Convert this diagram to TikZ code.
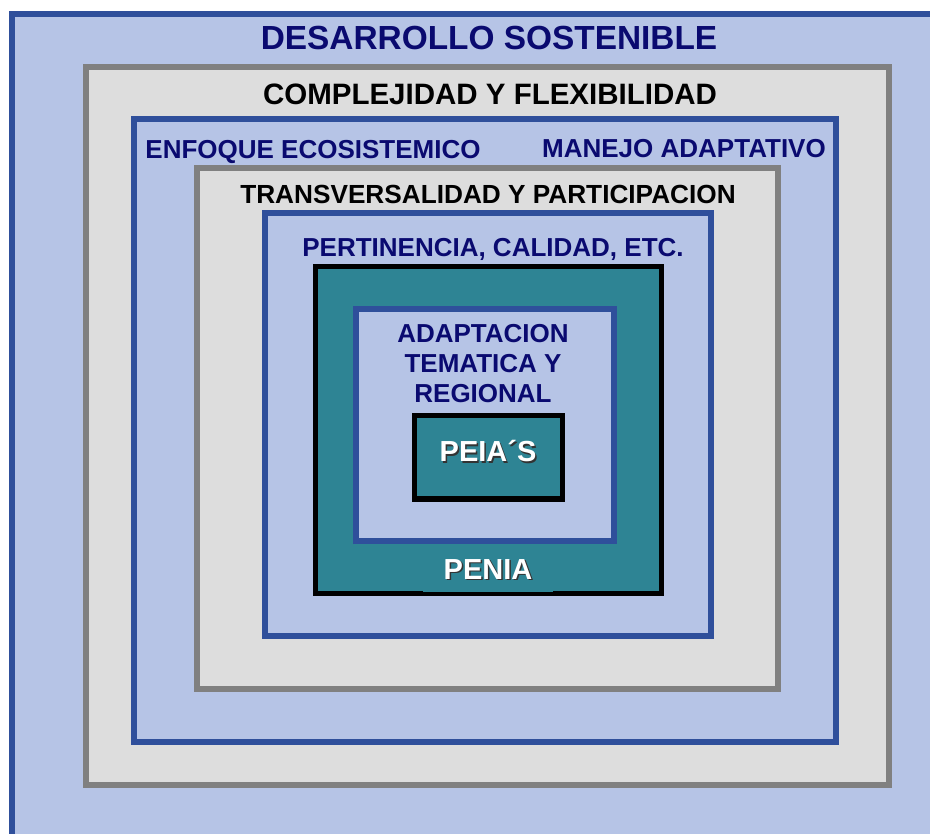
\documentclass[tikz,border=0pt]{standalone}
\usepackage{fontspec}
\setmainfont{Liberation Sans}
\usepackage{tikz}
\usetikzlibrary{positioning}
\definecolor{lightblue}{HTML}{B6C4E6}
\definecolor{frameblue}{HTML}{2F4F9B}
\definecolor{boxgray}{HTML}{DDDDDD}
\definecolor{framegray}{HTML}{808080}
\definecolor{navytext}{HTML}{0A0A70}
\definecolor{pteal}{HTML}{2E8494}

\begin{document}
\begin{tikzpicture}[x=1pt,y=-1pt,
  bluebox/.style={draw=frameblue,fill=lightblue,line width=5.5pt},
  graybox/.style={draw=framegray,fill=boxgray,line width=5.5pt},
  tealbox/.style={draw=black,fill=pteal,line width=5pt},
  lbl/.style={font=\bfseries\fontsize{26}{30.5}\selectfont,inner sep=0pt,anchor=base,align=center},
  navy/.style={lbl,text=navytext},
  shadowtxt/.style={lbl,font=\bfseries\fontsize{29}{34}\selectfont,text=black!80}]
\useasboundingbox (0,0) rectangle (930,834);
\clip (0,0) rectangle (930,834);
% nested frames, outside to inside
\draw[bluebox] (12,14) rectangle (950,850);
\draw[graybox] (86,67) rectangle (889,785);
\draw[bluebox] (134,119) rectangle (836,742);
\draw[graybox] (197,168) rectangle (778,689);
\draw[bluebox] (265,213) rectangle (711,636);
\draw[tealbox] (315,267) rectangle (661,593.5);
\draw[bluebox] (356,309) rectangle (614,541);
\draw[tealbox] (414,416) rectangle (562,499);
% labels
\node[navy,font=\bfseries\fontsize{33.4}{38}\selectfont] (desarrollo) at (489,50) {DESARROLLO SOSTENIBLE};
\node[lbl,font=\bfseries\fontsize{29.5}{34}\selectfont] (complejidad) at (490,105) {COMPLEJIDAD Y FLEXIBILIDAD};
\node[navy] (enfoque) at (313,159) {ENFOQUE ECOSISTEMICO};
\node[navy] (manejo) at (684,158) {MANEJO ADAPTATIVO};
\node[lbl,font=\bfseries\fontsize{26.2}{30.5}\selectfont] (transversalidad) at (488,204) {TRANSVERSALIDAD Y PARTICIPACION};
\node[navy] (pertinencia) at (493,257) {PERTINENCIA, CALIDAD, ETC.};
\node[navy] (adaptacion) at (483,403) {ADAPTACION\\TEMATICA Y\\REGIONAL};
% white titles with a dark shadow
\node[fill=pteal,minimum width=130,minimum height=44,inner sep=0pt] (peniabg) at (488,570) {};
\node[shadowtxt] (peiasshadow) at (489.5,463.5) {PEIA´S};
\node[shadowtxt,text=white] (peias) at (488,462) {PEIA´S};
\node[shadowtxt] (peniashadow) at (489.5,580.5) {PENIA};
\node[shadowtxt,text=white] (penia) at (488,579) {PENIA};
\end{tikzpicture}
\end{document}
